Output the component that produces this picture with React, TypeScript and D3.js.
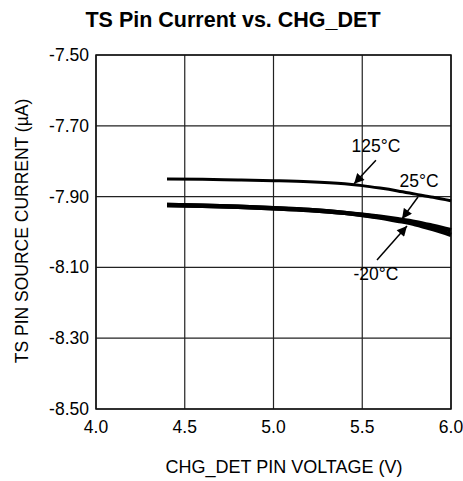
import React from "react";
import * as d3 from "d3";

const xTicks = [4.0, 4.5, 5.0, 5.5, 6.0];
const yTicks = [-7.5, -7.7, -7.9, -8.1, -8.3, -8.5];

const voltage = [4.4, 4.6, 4.8, 5.0, 5.2, 5.4, 5.5, 5.6, 5.7, 5.8, 5.9, 6.0];
const current125 = [-7.85, -7.851, -7.853, -7.855, -7.858, -7.864, -7.869, -7.876, -7.884, -7.893, -7.902, -7.912];
const current25 = [-7.924, -7.926, -7.929, -7.933, -7.938, -7.946, -7.951, -7.957, -7.964, -7.972, -7.983, -7.995];
const currentM20 = [-7.924, -7.926, -7.929, -7.933, -7.938, -7.946, -7.952, -7.959, -7.968, -7.978, -7.992, -8.008];

const labels = ["125°C", "25°C", "-20°C"];
const labelPos = [[5.577, -7.774], [5.82, -7.873], [5.577, -8.136]];
const arrowTail = [[5.577, -7.797], [5.814, -7.901], [5.583, -8.079]];
const arrowTip = [[5.454, -7.864], [5.724, -7.963], [5.752, -7.983]];

const W = 463, H = 481;
const left = 96, right = 451, top = 55, bottom = 409;

export default function App() {
  const x = d3.scaleLinear().domain([4, 6]).range([left, right]);
  const y = d3.scaleLinear().domain([-7.5, -8.5]).range([top, bottom]);
  const line = d3.line<number>().x((_, i) => x(voltage[i])).y((d) => y(d)).curve(d3.curveMonotoneX);
  const font = "Liberation Sans, Arial, Helvetica, sans-serif";

  return (
    <svg width={W} height={H} style={{ position: "absolute", left: 0, top: 0, background: "#fff" }} fontFamily={font}>
      <defs>
        <marker id="ah" viewBox="0 0 10 10" refX="10" refY="5" markerWidth="11" markerHeight="10" markerUnits="userSpaceOnUse" orient="auto">
          <path d="M0,0 L10,5 L0,10 z" fill="#000" />
        </marker>
      </defs>
      <text x={233} y={27} textAnchor="middle" fontSize={21.5} fontWeight="bold" fill="#000">TS Pin Current vs. CHG_DET</text>
      {xTicks.map((t) => (
        <line key={"gx" + t} x1={x(t)} x2={x(t)} y1={top} y2={bottom} stroke="#222" strokeWidth={1.2} />
      ))}
      {yTicks.map((t) => (
        <line key={"gy" + t} x1={left} x2={right} y1={y(t)} y2={y(t)} stroke="#222" strokeWidth={1.2} />
      ))}
      <rect x={left} y={top} width={right - left} height={bottom - top} fill="none" stroke="#111" strokeWidth={1.5} />
      {xTicks.map((t) => (
        <text key={"tx" + t} x={x(t)} y={433} textAnchor="middle" fontSize={17.5} fill="#000">{t.toFixed(1)}</text>
      ))}
      {yTicks.map((t) => (
        <text key={"ty" + t} x={89} y={y(t) + 6} textAnchor="end" fontSize={17.5} fill="#000">{t.toFixed(2)}</text>
      ))}
      <text x={284} y={473} textAnchor="middle" fontSize={18} fill="#000">CHG_DET PIN VOLTAGE (V)</text>
      <text transform={`translate(28,231) rotate(-90)`} textAnchor="middle" fontSize={17.5} fill="#000">TS PIN SOURCE CURRENT (µA)</text>
      <path d={line(current125) || ""} fill="none" stroke="#000" strokeWidth={3} />
      <path d={line(current25) || ""} fill="none" stroke="#000" strokeWidth={4.5} />
      <path d={line(currentM20) || ""} fill="none" stroke="#000" strokeWidth={4.5} />
      {labels.map((l, i) => (
        <g key={l}>
          <text x={x(labelPos[i][0])} y={y(labelPos[i][1])} textAnchor="middle" fontSize={17.5} fill="#000">{l}</text>
          <line x1={x(arrowTail[i][0])} y1={y(arrowTail[i][1])} x2={x(arrowTip[i][0])} y2={y(arrowTip[i][1])} stroke="#000" strokeWidth={1.5} markerEnd="url(#ah)" />
        </g>
      ))}
    </svg>
  );
}
